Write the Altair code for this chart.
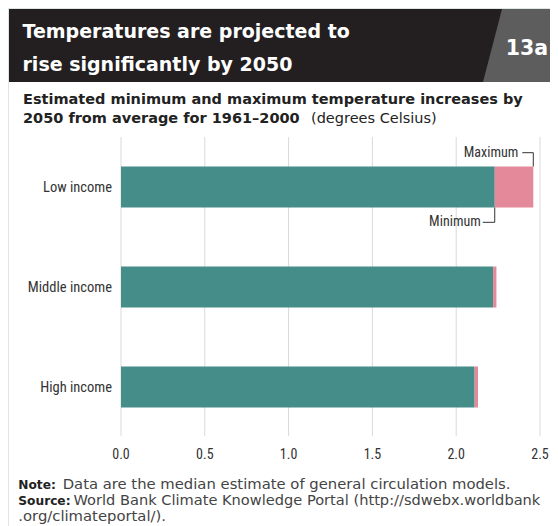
import altair as alt
import pandas as pd

# ---- data ----
categories = ["Low income", "Middle income", "High income"]
min_vals = [2.23, 2.22, 2.11]
max_vals = [2.46, 2.24, 2.13]
tick_values = [0.0, 0.5, 1.0, 1.5, 2.0, 2.5]
tick_labels = ["0.0", "0.5", "1.0", "1.5", "2.0", "2.5"]

title_lines = ["Temperatures are projected to", "rise significantly by 2050"]
badge = "13a"
subtitle_1 = "Estimated minimum and maximum temperature increases by"
subtitle_2_bold = "2050 from average for 1961\u20132000"
subtitle_2_reg = "(degrees Celsius)"
note_bold = "Note:"
note_text = "Data are the median estimate of general circulation models."
source_bold = "Source:"
source_text = "World Bank Climate Knowledge Portal (http://sdwebx.worldbank"
source_text2 = ".org/climateportal/)."

TEAL = "#448d88"
PINK = "#e4899a"
BLACK = "#231f20"
BADGE_GRAY = "#5d5d5d"
BG = "#dde6e4"

W, H = 542, 518
COND = "Roboto Condensed, Liberation Sans Narrow, DejaVu Sans Condensed, sans-serif"
WIDE = "DejaVu Sans, Verdana, sans-serif"

df = pd.DataFrame({"cat": categories, "min": min_vals, "max": max_vals})
ticks = pd.DataFrame({"v": tick_values, "lab": tick_labels})
one = pd.DataFrame({"a": [0]})

xs = alt.Scale(domain=[0, 2.5], range=[113, 532], nice=False, zero=True)
ys = alt.Scale(domain=categories, range=[129, 429], paddingInner=0.59, paddingOuter=0.295)


def txt(s, x, y, size, weight, color, font, align="left"):
    return alt.Chart(pd.DataFrame({"t": [s]})).mark_text(
        align=align, baseline="alphabetic", fontSize=size, fontWeight=weight,
        color=color, font=font
    ).encode(x=alt.value(x), y=alt.value(y), text="t:N")


def rect(x, x2, y, y2, color):
    return alt.Chart(one).mark_rect(color=color).encode(
        x=alt.value(x), x2=alt.value(x2), y=alt.value(y), y2=alt.value(y2))


white = rect(1, 560, 1, 560, "white")
band = rect(1, 560, 1, 74, BLACK)
para = alt.Chart(one).mark_point(
    shape="M-0.493,-0.973L1,-0.973L1,0.973L-1,0.973Z", filled=True, size=5625,
    color=BADGE_GRAY, opacity=1, strokeWidth=0
).encode(x=alt.value(512.5), y=alt.value(37.5))

t1 = txt(title_lines[0], 14.5, 29.5, 19, "bold", "white", WIDE)
t2 = txt(title_lines[1], 14.5, 62.5, 19, "bold", "white", WIDE)
t3 = txt(badge, 519, 47, 20.5, "bold", "white", WIDE, align="center")

s1 = txt(subtitle_1, 15, 96, 14.5, "bold", "#222222", WIDE)
s2 = txt(subtitle_2_bold, 15, 114.5, 14.5, "bold", "#222222", WIDE)
s3 = txt(subtitle_2_reg, 303, 114.5, 14.5, "normal", "#222222", WIDE)

grid = alt.Chart(ticks).mark_rule(color="#d9d9d9", strokeWidth=1).encode(
    x=alt.X("v:Q", scale=xs, axis=None), y=alt.value(129), y2=alt.value(428))

tick_text = alt.Chart(ticks).mark_text(
    align="center", baseline="alphabetic", fontSize=14, font=COND, color="#333333"
).encode(x=alt.X("v:Q", scale=xs, axis=None), y=alt.value(451.3), text="lab:N")

teal = alt.Chart(df).mark_bar(color=TEAL).encode(
    x=alt.X("min:Q", scale=xs, axis=None),
    y=alt.Y("cat:N", scale=ys, axis=None, sort=categories))
pink = alt.Chart(df).mark_bar(color=PINK).encode(
    x=alt.X("min:Q", scale=xs, axis=None), x2="max:Q",
    y=alt.Y("cat:N", scale=ys, axis=None, sort=categories))

ylab = alt.Chart(df).mark_text(
    align="right", baseline="middle", fontSize=14.5, font=COND, color="#333333", dy=1
).encode(x=alt.value(104), y=alt.Y("cat:N", scale=ys, axis=None, sort=categories), text="cat:N")

low = df[df["cat"] == categories[0]]
max_txt = alt.Chart(low).mark_text(
    align="right", baseline="alphabetic", fontSize=14, font=COND, color="#333333", dx=-15
).encode(x=alt.X("max:Q", scale=xs, axis=None), y=alt.value(148.7), text=alt.value("Maximum"))
max_h = alt.Chart(low).mark_rule(color="#333333", strokeWidth=1, xOffset=-11).encode(
    x=alt.X("max:Q", scale=xs, axis=None), x2="max:Q", y=alt.value(144.7))
max_v = alt.Chart(low).mark_rule(color="#333333", strokeWidth=1).encode(
    x=alt.X("max:Q", scale=xs, axis=None), y=alt.value(144.7), y2=alt.value(158.5))

min_txt = alt.Chart(low).mark_text(
    align="right", baseline="alphabetic", fontSize=14, font=COND, color="#333333", dx=-14
).encode(x=alt.X("min:Q", scale=xs, axis=None), y=alt.value(217.7), text=alt.value("Minimum"))
min_h = alt.Chart(low).mark_rule(color="#333333", strokeWidth=1, xOffset=-12).encode(
    x=alt.X("min:Q", scale=xs, axis=None), x2="min:Q", y=alt.value(214.3))
min_v = alt.Chart(low).mark_rule(color="#333333", strokeWidth=1).encode(
    x=alt.X("min:Q", scale=xs, axis=None), y=alt.value(199.5), y2=alt.value(214.3))

n1a = txt(note_bold, 10.3, 480.7, 12.2, "bold", "#222222", WIDE)
n1b = txt(note_text, 54.7, 480.7, 14.8, "normal", "#444444", WIDE)
n2a = txt(source_bold, 10.3, 496.7, 12.2, "bold", "#222222", WIDE)
n2b = txt(source_text, 65.5, 496.7, 14.6, "normal", "#444444", WIDE)
n3 = txt(source_text2, 10.3, 512.7, 14.8, "normal", "#444444", WIDE)

chart = alt.layer(
    white, band, para, t1, t2, t3, s1, s2, s3, grid, teal, pink, ylab, tick_text,
    max_txt, max_h, max_v, min_txt, min_h, min_v, n1a, n1b, n2a, n2b, n3
).properties(
    width=W, height=H, padding=0, background=BG,
    autosize=alt.AutoSizeParams(type="none", contains="padding")
).configure_view(strokeWidth=0)

chart.save("out.html", embed_options={"renderer": "svg", "actions": False})
